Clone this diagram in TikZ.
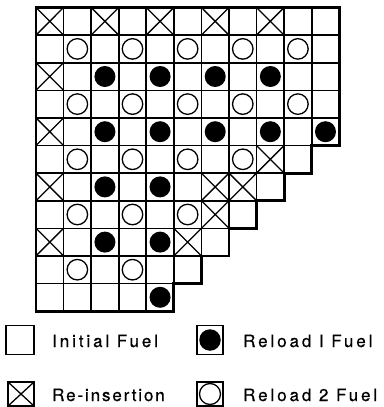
\documentclass[tikz,border=0pt]{standalone}
\usepackage{fontspec}
\setmainfont{TeX Gyre Heros}
\newfontfamily\legfont[LetterSpace=17,FakeBold=0.6]{TeX Gyre Heros}
\newfontfamily\legfontn[LetterSpace=11,FakeBold=0.6]{TeX Gyre Heros}
\begin{document}
\begin{tikzpicture}[x=1pt,y=-1pt,
  cell/.style={draw,line width=1.6pt,minimum width=27.57pt,minimum height=27.6pt,inner sep=0pt,outer sep=0pt},
  cross/.style={line width=1.3pt},
  fuelone/.style={circle,fill=black,draw=none,minimum size=21pt,inner sep=0pt},
  fueltwo/.style={circle,draw=black,line width=1.3pt,minimum size=20.5pt,inner sep=0pt},
  outline/.style={line width=2.8pt,line join=miter},
  legbox/.style={draw,line width=1.4pt,inner sep=0pt,outer sep=0pt},
  legtext/.style={anchor=base west,inner sep=0pt,font=\legfont\fontsize{17pt}{19pt}\selectfont},
  legtextn/.style={anchor=base west,inner sep=0pt,font=\legfontn\fontsize{17pt}{19pt}\selectfont}]
\useasboundingbox (0,0) rectangle (383,407);
% grid cells
\foreach \r/\n in {0/11,1/11,2/11,3/11,4/11,5/10,6/9,7/8,8/7,9/6,10/5}{
  \pgfmathtruncatemacro\lastc{\n-1}
  \foreach \c in {0,...,\lastc}{
    \node[cell] (c\r-\c) at ({36+27.57*\c+13.785},{7.5+27.6*\r+13.8}) {};
  }
}
% re-insertion crosses
\foreach \r/\c in {0/0,0/2,0/4,0/6,0/8,2/0,4/0,5/8,6/0,6/6,6/7,7/6,8/0,8/5}{
  \draw[cross] (c\r-\c.north west) -- (c\r-\c.south east)
               (c\r-\c.north east) -- (c\r-\c.south west);
}
% reload 1 fuel
\foreach \r/\c in {2/2,2/4,2/6,2/8,4/2,4/4,4/6,4/8,4/10,6/2,6/4,8/2,8/4,10/4}{
  \node[fuelone] (f\r-\c) at (c\r-\c) {};
}
% reload 2 fuel
\foreach \r/\c in {1/1,1/3,1/5,1/7,1/9,3/1,3/3,3/5,3/7,3/9,5/1,5/3,5/5,5/7,7/1,7/3,7/5,9/1,9/3}{
  \node[fueltwo] (o\r-\c) at (c\r-\c) {};
}
% staircase outline
\draw[outline] (c0-0.north west) -- (c0-10.north east) -- (c4-10.south east)
  -- (c5-9.north east) -- (c5-9.south east) -- (c6-8.north east) -- (c6-8.south east)
  -- (c7-7.north east) -- (c7-7.south east) -- (c8-6.north east) -- (c8-6.south east)
  -- (c9-5.north east) -- (c9-5.south east) -- (c10-4.north east) -- (c10-4.south east)
  -- (c10-0.south west) -- cycle;
% legend
\node[legbox,minimum width=28pt,minimum height=29pt] (lInit) at (20,340) {};
\node[legtext] (tInit) at (52,347) {Initial Fuel};
\node[legbox,minimum width=26pt,minimum height=29pt] (lRone) at (210,340) {};
\node[fuelone,minimum size=21.5pt] (lRonedot) at (lRone) {};
\node[legtext] (tRone) at (243,347) {Reload I Fuel};
\node[legbox,minimum width=26pt,minimum height=24pt] (lRe) at (21,394) {};
\draw[cross] (lRe.north west) -- (lRe.south east) (lRe.north east) -- (lRe.south west);
\node[legtextn] (tRe) at (52,401) {Re-insertion};
\node[legbox,minimum width=26pt,minimum height=24pt] (lRtwo) at (210,394) {};
\node[fueltwo,minimum size=21pt] (lRtwocirc) at (lRtwo) {};
\node[legtext] (tRtwo) at (243,401) {Reload 2 Fuel};
\end{tikzpicture}
\end{document}
